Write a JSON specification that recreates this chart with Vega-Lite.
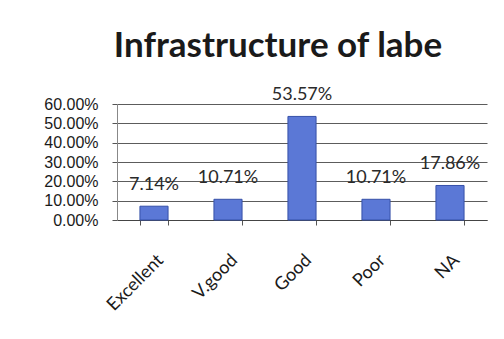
{
  "$schema": "https://vega.github.io/schema/vega-lite/v6.json",
  "width": 370,
  "height": 116,
  "autosize": {"type": "none"},
  "padding": {"left": 117, "top": 104, "right": 17, "bottom": 119},
  "background": "white",
  "title": {
    "text": "Infrastructure of labe",
    "font": "Lato",
    "fontSize": 35,
    "fontWeight": "bold",
    "color": "#1a1a1a",
    "anchor": "middle",
    "dx": -24,
    "offset": 22
  },
  "data": {
    "values": [
      {"category": "Excellent", "value": 0.0714},
      {"category": "V.good", "value": 0.1071},
      {"category": "Good", "value": 0.5357},
      {"category": "Poor", "value": 0.1071},
      {"category": "NA", "value": 0.1786}
    ]
  },
  "encoding": {
    "x": {
      "field": "category",
      "type": "nominal",
      "sort": null,
      "scale": {"paddingInner": 0.62, "paddingOuter": 0.31},
      "axis": {
        "title": null,
        "labelAngle": -45,
        "labelFont": "Lato",
        "labelFontSize": 18,
        "labelColor": "#1a1a1a",
        "labelPadding": 26,
        "tickBand": "extent",
        "tickSize": 5,
        "tickColor": "#555",
        "domainColor": "#444",
        "grid": false
      }
    },
    "y": {
      "field": "value",
      "type": "quantitative",
      "scale": {"domain": [0, 0.6], "nice": false},
      "axis": {
        "title": null,
        "values": [0, 0.1, 0.2, 0.3, 0.4, 0.5, 0.6],
        "format": ".2%",
        "labelFont": "Liberation Sans",
        "labelFontSize": 16,
        "labelColor": "#1a1a1a",
        "labelPadding": 14,
        "tickSize": 5,
        "tickColor": "#555",
        "domainColor": "#888",
        "gridColor": "#333",
        "gridOpacity": 0.8
      }
    }
  },
  "layer": [
    {
      "mark": {"type": "bar", "color": "#5b78d6", "stroke": "#3550a8", "strokeWidth": 1}
    },
    {
      "mark": {"type": "text", "dy": -21, "font": "Lato", "fontSize": 18, "color": "#2a2a2a"},
      "encoding": {
        "text": {"field": "value", "type": "quantitative", "format": ".2%"}
      }
    }
  ],
  "config": {"view": {"stroke": null}}
}
